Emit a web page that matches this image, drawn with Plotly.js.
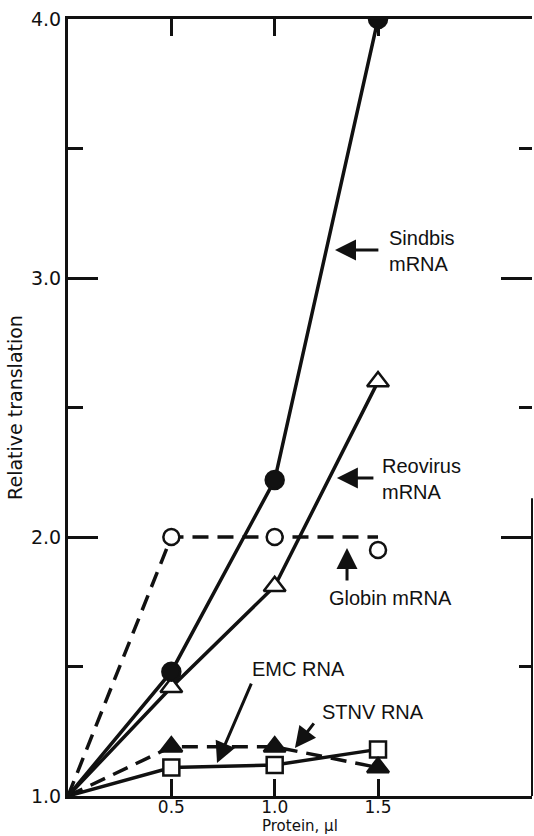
<!DOCTYPE html>
<html>
<head>
<meta charset="utf-8">
<script src="https://cdn.plot.ly/plotly-3.0.1.min.js"></script>
<style>html,body{margin:0;padding:0;background:#fff;}#chart{width:534px;height:836px;}</style>
</head>
<body>
<div id="chart"></div>
<script>
// Protein amount (µl)
var proteinX = [0, 0.5, 1.0, 1.5];
// Relative translation per RNA
var sindbis  = [1.0, 1.48, 2.22, 4.0];
var reovirus = [1.0, 1.42, 1.81, 2.60];
var globinLine = [1.0, 2.0, 2.0, 2.0];
var globinPoints = [null, 2.0, 2.0, 1.95];
var emc  = [1.0, 1.11, 1.12, 1.18];
var stnv = [1.0, 1.19, 1.19, 1.11];
var yTickVals = [1.0, 2.0, 3.0, 4.0];
var yTickText = ["1.0", "2.0", "3.0", "4.0"];
var xTickVals = [0.5, 1.0, 1.5];
var xTickText = ["0.5", "1.0", "1.5"];
var xTitle = "Protein, µl";
var yTitle = "Relative translation";

var FONT = "DejaVu Sans, Liberation Sans, sans-serif";
var LABEL_FONT = "Liberation Sans, Arial, sans-serif";
var INK = "#111";
var LW = 3.5;
var DASH = "16px,9px";

function lineTrace(y, dash) {
  return {x: proteinX, y: y, mode: "lines", type: "scatter", hoverinfo: "skip",
          line: {color: INK, width: LW, dash: dash || "solid"}, showlegend: false};
}
function markTrace(y, symbol, size, fill) {
  return {x: proteinX.slice(1), y: y.slice(1), mode: "markers", type: "scatter",
          marker: {symbol: symbol, size: size, color: fill, line: {color: INK, width: 2.5}},
          showlegend: false};
}

var traces = [
  lineTrace(globinLine, DASH),
  lineTrace(stnv, DASH),
  lineTrace(emc),
  lineTrace(reovirus),
  lineTrace(sindbis),
  markTrace(globinPoints, "circle", 16, "#fff"),
  markTrace(emc, "square", 16, "#fff"),
  markTrace(stnv, "triangle-up", 19, INK),
  markTrace(reovirus, "triangle-up", 19, "#fff"),
  markTrace(sindbis, "circle", 18, INK),
  {x: [], y: [], yaxis: "y2", type: "scatter", mode: "markers", showlegend: false}
];

function label(text, x, y) {
  return {text: text, x: x, y: y, xref: "x", yref: "y", xanchor: "left", yanchor: "middle",
          align: "left", showarrow: false, font: {family: LABEL_FONT, size: 20, color: INK}};
}
function arrow(x, y, ax, ay) {
  return {text: "", x: x, y: y, ax: ax, ay: ay, xref: "x", yref: "y", axref: "x", ayref: "y",
          showarrow: true, arrowhead: 2, arrowsize: 1.4, arrowwidth: 3, arrowcolor: INK,
          standoff: 0, startstandoff: 0};
}

var layout = {
  width: 534, height: 836,
  margin: {l: 68, r: 2, t: 19, b: 40},
  paper_bgcolor: "#fff", plot_bgcolor: "#fff",
  font: {family: FONT, color: INK},
  xaxis: {
    range: [0, 2.245], showgrid: false, zeroline: false,
    showline: true, linecolor: INK, linewidth: 3, mirror: "ticks",
    ticks: "inside", ticklen: 17, tickwidth: 3, tickcolor: INK,
    tickvals: xTickVals, ticktext: xTickText, ticklabelstandoff: -6,
    tickfont: {family: FONT, size: 17, color: INK}
  },
  yaxis: {
    range: [1.0, 4.0], showgrid: false, zeroline: false,
    showline: true, linecolor: INK, linewidth: 3,
    ticks: "inside", ticklen: 30, tickwidth: 3, tickcolor: INK,
    tickvals: yTickVals, ticktext: yTickText,
    minor: {dtick: 0.5, ticks: "inside", ticklen: 15, tickwidth: 3, tickcolor: INK},
    tickfont: {family: FONT, size: 19, color: INK},
    title: {text: yTitle, font: {family: FONT, size: 19, color: INK}, standoff: 4}
  },
  yaxis2: {
    overlaying: "y", side: "right", range: [1.0, 4.0], showgrid: false, zeroline: false,
    showline: false, showticklabels: false,
    ticks: "inside", ticklen: 31, tickwidth: 3, tickcolor: INK,
    tickvals: yTickVals,
    minor: {dtick: 0.5, ticks: "inside", ticklen: 13, tickwidth: 3, tickcolor: INK}
  },
  shapes: [
    {type: "line", xref: "paper", yref: "y", x0: 1, x1: 1, y0: 1.0, y1: 2.15,
     line: {color: INK, width: 2}}
  ],
  annotations: [
    {text: xTitle, xref: "paper", yref: "paper", x: 0.5, y: -0.0515, xanchor: "center",
     yanchor: "bottom", showarrow: false, borderpad: 0,
     font: {family: FONT, size: 15, color: INK}},
    label("Sindbis<br>mRNA", 1.543, 3.104),
    label("Reovirus<br>mRNA", 1.509, 2.224),
    label("Globin mRNA", 1.253, 1.764),
    label("EMC RNA", 0.880, 1.490),
    label("STNV RNA", 1.219, 1.324),
    arrow(1.292, 3.108, 1.509, 3.108),
    arrow(1.301, 2.228, 1.485, 2.228),
    arrow(1.350, 1.958, 1.350, 1.826),
    arrow(0.721, 1.127, 0.890, 1.440),
    arrow(1.098, 1.185, 1.195, 1.286)
  ]
};

Plotly.newPlot("chart", traces, layout, {displayModeBar: false, staticPlot: true});
</script>
</body>
</html>
